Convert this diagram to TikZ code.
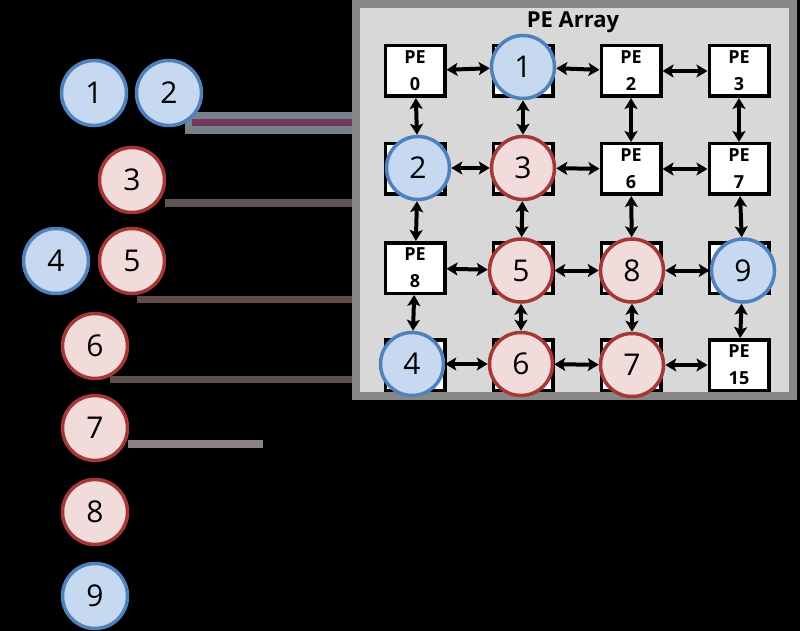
\documentclass[tikz,border=0pt]{standalone}
\usepackage{fontspec}
\setmainfont{Open Sans}
\usetikzlibrary{arrows.meta}
\definecolor{bfill}{RGB}{198,217,241}
\definecolor{bline}{RGB}{79,129,189}
\definecolor{rfill}{RGB}{242,220,219}
\definecolor{rline}{RGB}{165,55,55}
\definecolor{arrfill}{RGB}{216,216,216}
\definecolor{arrline}{RGB}{135,135,135}
\definecolor{lpurple}{RGB}{115,55,95}
\definecolor{lhalo}{RGB}{120,130,140}
\definecolor{lbrownA}{RGB}{95,85,85}
\definecolor{lbrownB}{RGB}{100,75,75}
\definecolor{lbrownC}{RGB}{95,80,80}
\definecolor{lgrayD}{RGB}{140,130,130}
\begin{document}
\begin{tikzpicture}[x=1pt,y=-1pt,
  tnode/.style={circle, minimum size=65pt, inner sep=0pt, line width=3.5pt, font=\fontsize{30}{30}\selectfont},
  bnode/.style={tnode, draw=bline, fill=bfill},
  rnode/.style={tnode, draw=rline, fill=rfill},
  small/.style={minimum size=63pt},
  pebox/.style={draw=black, fill=white, line width=3.5pt, minimum width=59.5pt, minimum height=50.5pt, inner sep=0pt, align=center, font=\bfseries\fontsize{18}{27}\selectfont},
  dar/.style={{Stealth[length=11pt,width=13pt,inset=2.5pt]}-{Stealth[length=11pt,width=13pt,inset=2.5pt]}, line width=4pt},
  tedge/.style={-{Latex[length=6pt,width=7pt]}, line width=2pt, black},
  sepline/.style={line width=7pt}
]
\useasboundingbox (0,0) rectangle (800,631);
\fill[black] (0,0) rectangle (800,631);

% PE array frame
\node[draw=arrline, fill=arrfill, line width=8pt, minimum width=437pt, minimum height=392pt, inner sep=0pt] (arr) at (574.5,200) {};
\node[font=\bfseries\fontsize{22}{22}\selectfont] (title) at (573,22) {PE Array};

% separator lines
\coordinate (s1) at (185,123);
\coordinate (s2) at (165,203);
\coordinate (s3) at (137,299);
\coordinate (s4) at (110,379.5);
\coordinate (s5) at (128,444);
\coordinate (e5) at (263,444);
\draw[lhalo, line width=22pt] (s1) -- (s1 -| arr.west);
\draw[lpurple, sepline] ([xshift=7pt]s1) -- (s1 -| arr.west);
\draw[lbrownA, line width=8pt] (s2) -- (s2 -| arr.west);
\draw[lbrownB, sepline] (s3) -- (s3 -| arr.west);
\draw[lbrownC, sepline] (s4) -- (s4 -| arr.west);
\draw[lgrayD, line width=8pt] (s5) -- (e5);
\node[draw=arrline, line width=8pt, minimum width=437pt, minimum height=392pt, inner sep=0pt] (arrb) at (574.5,200) {};

% left tree
\node[bnode] (t1) at (94,93) {1};
\node[bnode] (t2) at (169,93) {2};
\node[rnode] (t3) at (132,180) {3};
\node[bnode] (t4) at (56,261) {4};
\node[rnode] (t5) at (132,261) {5};
\node[rnode] (t6) at (95,346) {6};
\node[rnode] (t7) at (95,428) {7};
\node[rnode] (t8) at (95,512) {8};
\node[bnode] (t9) at (95,596) {9};
\draw[tedge] (t1) -- (t3);
\draw[tedge] (t2) -- (t3);
\draw[tedge] (t3) -- (t5);
\draw[tedge] (t4) -- (t6);
\draw[tedge] (t5) -- (t6);
\draw[tedge] (t6) -- (t7);
\draw[tedge] (t7) -- (t8);
\draw[tedge] (t8) -- (t9);

% PE boxes (those under a mapped circle show no text)
\node[pebox] (p0) at (415,71) {PE\\0};
\node[pebox] (p1) at (523,71) {};
\node[pebox] (p2) at (631,71) {PE\\2};
\node[pebox] (p3) at (739,71) {PE\\3};
\node[pebox] (p4) at (415,169) {};
\node[pebox] (p5) at (523,169) {};
\node[pebox] (p6) at (631,169) {PE\\6};
\node[pebox] (p7) at (739,169) {PE\\7};
\node[pebox] (p8) at (415,268) {PE\\8};
\node[pebox] (p9) at (523,268) {};
\node[pebox] (p10) at (631,268) {};
\node[pebox] (p11) at (739,268) {};
\node[pebox] (p12) at (415,365) {};
\node[pebox] (p13) at (523,365) {};
\node[pebox] (p14) at (631,365) {};
\node[pebox] (p15) at (739,365) {PE\\15};

% mapped circles
\node[bnode, small] (a1) at (523,67) {1};
\node[bnode, small] (a2) at (418,168) {2};
\node[rnode, small] (a3) at (523,168) {3};
\node[bnode, small] (a4) at (412,364) {4};
\node[rnode, small] (a5) at (521,270.5) {5};
\node[rnode, small] (a6) at (521,364) {6};
\node[rnode, small] (a7) at (632,365) {7};
\node[rnode, small] (a8) at (632,270.5) {8};
\node[bnode, small] (a9) at (743,270.5) {9};

% mesh links
\draw[dar] (p0) -- (a1);
\draw[dar] (a1) -- (p2);
\draw[dar] (p2) -- (p3);
\draw[dar] (a2) -- (a3);
\draw[dar] (a3) -- (p6);
\draw[dar] (p6) -- (p7);
\draw[dar] (p8) -- (a5);
\draw[dar] (a5) -- (a8);
\draw[dar] (a8) -- (a9);
\draw[dar] (a4) -- (a6);
\draw[dar] (a6) -- (a7);
\draw[dar] (a7) -- (p15);
\draw[dar] (p0) -- (a2);
\draw[dar] (a2) -- (p8);
\draw[dar] (p8) -- (a4);
\draw[dar] (a1) -- (a3);
\draw[dar] (a3) -- (a5);
\draw[dar] (a5) -- (a6);
\draw[dar] (p2) -- (p6);
\draw[dar] (p6) -- (a8);
\draw[dar] (a8) -- (a7);
\draw[dar] (p3) -- (p7);
\draw[dar] (p7) -- (a9);
\draw[dar] (a9) -- (p15);
\end{tikzpicture}
\end{document}
